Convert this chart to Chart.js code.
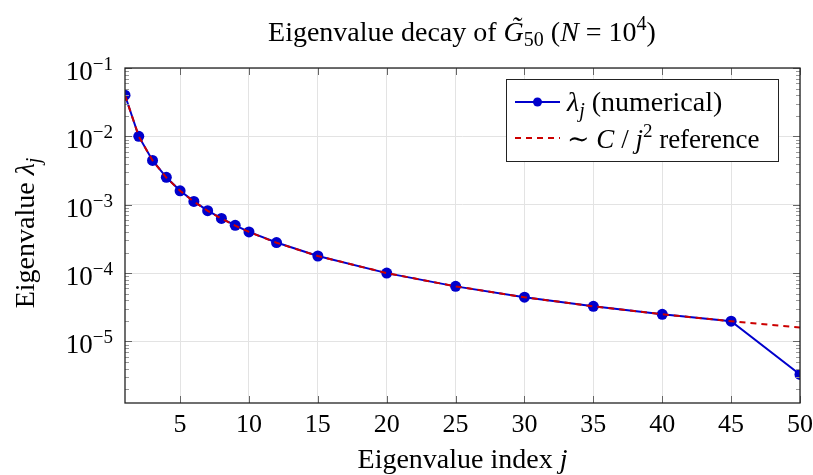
<!DOCTYPE html>
<html>
<head>
<meta charset="utf-8">
<script src="https://cdn.jsdelivr.net/npm/chart.js@4.4.1/dist/chart.umd.min.js"></script>
<style>
  html, body { margin: 0; padding: 0; background: #fff; }
  #wrap { width: 813px; height: 475px; position: relative; }
</style>
</head>
<body>
<div id="wrap"><canvas id="decay"></canvas></div>
<script>
// Eigenvalue decay data
const jIdx = [1, 2, 3, 4, 5, 6, 7, 8, 9, 10, 12, 15, 20, 25, 30, 35, 40, 45, 50];
const lambdaNum = [0.040, 0.0100, 0.00445, 0.00252, 0.00160, 0.00112, 0.00082, 0.00063, 0.00050,
    0.00040, 0.000280, 0.000178, 0.000100, 6.4e-5, 4.45e-5, 3.27e-5, 2.5e-5, 1.98e-5, 3.3e-6];
const refVals = [0.040, 0.0100, 0.00444, 0.00250, 0.00160, 0.00111, 0.000816, 0.000625, 0.000494,
    0.00040, 0.000278, 0.000178, 0.000100, 6.4e-5, 4.44e-5, 3.27e-5, 2.5e-5, 1.98e-5, 1.6e-5];
const xTicks = [5, 10, 15, 20, 25, 30, 35, 40, 45, 50];
const yDecades = [-5, -4, -3, -2, -1];

const SERIF = '"Liberation Serif", "DejaVu Serif", serif';
const BLUE = '#0000cc';
const RED = '#cc0000';

function font(size, italic) {
    return (italic ? 'italic ' : '') + size + 'px ' + SERIF;
}

// draw a run of text pieces: {t, size, it, dy}
function drawRich(ctx, parts, x, y, align) {
    let w = 0;
    parts.forEach(p => { ctx.font = font(p.size, p.it); w += ctx.measureText(p.t).width; });
    let cx = align === 'center' ? x - w / 2 : (align === 'right' ? x - w : x);
    ctx.textAlign = 'left';
    ctx.textBaseline = 'alphabetic';
    parts.forEach(p => {
        ctx.font = font(p.size, p.it);
        ctx.fillText(p.t, cx, y + (p.dy || 0));
        cx += ctx.measureText(p.t).width;
    });
}

const decorPlugin = {
    id: 'decor',
    afterDraw(chart) {
        const ctx = chart.ctx;
        const area = chart.chartArea;
        const xs = chart.scales.x, ys = chart.scales.y;
        ctx.save();
        ctx.fillStyle = '#000';

        // title
        drawRich(ctx, [
            { t: 'Eigenvalue decay of ', size: 28 },
            { t: 'G\u0303', size: 28, it: true },
            { t: '50', size: 20, dy: 5 },
            { t: ' (', size: 28 },
            { t: 'N', size: 28, it: true },
            { t: ' = 10', size: 28 },
            { t: '4', size: 20, dy: -11 },
            { t: ')', size: 28 }
        ], 462, 41, 'center');

        // y tick labels 10^k
        yDecades.forEach(k => {
            const py = ys.getPixelForValue(Math.pow(10, k));
            drawRich(ctx, [
                { t: '10', size: 27 },
                { t: '\u2212' + (-k), size: 19, dy: -10 }
            ], 113, py + 12, 'right');
        });

        // x tick labels
        xTicks.forEach(v => {
            drawRich(ctx, [{ t: String(v), size: 26 }], xs.getPixelForValue(v), 432, 'center');
        });

        // x axis title
        drawRich(ctx, [
            { t: 'Eigenvalue index ', size: 28 },
            { t: 'j', size: 28, it: true }
        ], (area.left + area.right) / 2, 468, 'center');

        // y axis title (rotated)
        ctx.save();
        ctx.translate(34, 233);
        ctx.rotate(-Math.PI / 2);
        drawRich(ctx, [
            { t: 'Eigenvalue ', size: 28 },
            { t: '\u03bb', size: 28, it: true },
            { t: 'j', size: 20, it: true, dy: 6 }
        ], 0, 0, 'center');
        ctx.restore();

        // minor ticks on log axis, both sides, inside
        ctx.strokeStyle = '#999';
        ctx.lineWidth = 1;
        for (let k = -6; k < -1; k++) {
            for (let m = 2; m <= 9; m++) {
                const v = m * Math.pow(10, k);
                const py = Math.round(ys.getPixelForValue(v)) + 0.5;
                if (py < area.top || py > area.bottom) continue;
                ctx.beginPath();
                ctx.moveTo(area.left, py); ctx.lineTo(area.left + 4, py);
                ctx.moveTo(area.right, py); ctx.lineTo(area.right - 4, py);
                ctx.stroke();
            }
        }
        // major ticks
        ctx.strokeStyle = '#666';
        yDecades.forEach(k => {
            const py = Math.round(ys.getPixelForValue(Math.pow(10, k))) + 0.5;
            ctx.beginPath();
            ctx.moveTo(area.left, py); ctx.lineTo(area.left + 7, py);
            ctx.moveTo(area.right, py); ctx.lineTo(area.right - 7, py);
            ctx.stroke();
        });
        xTicks.forEach(v => {
            const px = Math.round(xs.getPixelForValue(v)) + 0.5;
            ctx.beginPath();
            ctx.moveTo(px, area.bottom); ctx.lineTo(px, area.bottom - 7);
            ctx.moveTo(px, area.top); ctx.lineTo(px, area.top + 7);
            ctx.stroke();
        });

        // frame
        ctx.strokeStyle = '#222';
        ctx.lineWidth = 1.3;
        ctx.strokeRect(area.left, area.top, area.right - area.left, area.bottom - area.top);

        // legend
        const lx = 506, ly = 79, lw = 272, lh = 82;
        ctx.fillStyle = '#fff';
        ctx.fillRect(lx, ly, lw, lh);
        ctx.strokeStyle = '#222';
        ctx.lineWidth = 1;
        ctx.strokeRect(lx + 0.5, ly + 0.5, lw, lh);
        // row 1
        ctx.strokeStyle = BLUE;
        ctx.lineWidth = 2;
        ctx.beginPath(); ctx.moveTo(515, 102); ctx.lineTo(560, 102); ctx.stroke();
        ctx.fillStyle = BLUE;
        ctx.beginPath(); ctx.arc(537.5, 102, 4.5, 0, Math.PI * 2); ctx.fill();
        ctx.fillStyle = '#000';
        drawRich(ctx, [
            { t: '\u03bb', size: 28, it: true },
            { t: 'j', size: 20, it: true, dy: 6 },
            { t: ' (numerical)', size: 28 }
        ], 567, 111, 'left');
        // row 2
        ctx.strokeStyle = RED;
        ctx.lineWidth = 2;
        ctx.setLineDash([6, 5]);
        ctx.beginPath(); ctx.moveTo(515, 138); ctx.lineTo(560, 138); ctx.stroke();
        ctx.setLineDash([]);
        drawRich(ctx, [
            { t: '\u223c ', size: 27 },
            { t: 'C', size: 27, it: true },
            { t: ' / ', size: 27 },
            { t: 'j', size: 27, it: true },
            { t: '2', size: 19, dy: -11 },
            { t: ' reference', size: 27 }
        ], 567, 148, 'left');

        ctx.restore();
    }
};

const ctx = document.getElementById('decay').getContext('2d');
new Chart(ctx, {
    type: 'line',
    data: {
        datasets: [
            {
                label: '~ C/j^2 reference',
                data: jIdx.map((j, i) => ({ x: j, y: refVals[i] })),
                borderColor: RED,
                borderWidth: 2,
                borderDash: [6, 5],
                pointRadius: 0,
                fill: false,
                tension: 0,
                order: 0
            },
            {
                label: 'lambda_j (numerical)',
                data: jIdx.map((j, i) => ({ x: j, y: lambdaNum[i] })),
                borderColor: BLUE,
                backgroundColor: BLUE,
                borderWidth: 2,
                pointRadius: 5.5,
                pointBorderWidth: 0,
                pointBackgroundColor: BLUE,
                fill: false,
                tension: 0,
                order: 1
            }
        ]
    },
    options: {
        responsive: true,
        maintainAspectRatio: false,
        animation: false,
        layout: { padding: { top: 68, right: 13, left: 0, bottom: 0 } },
        scales: {
            x: {
                type: 'linear',
                min: 1,
                max: 50,
                afterBuildTicks: (scale) => { scale.ticks = xTicks.map(v => ({ value: v })); },
                afterFit: (scale) => { scale.height = 72; },
                grid: { color: '#e3e3e3', lineWidth: 1, drawTicks: false },
                border: { display: false },
                ticks: { display: false }
            },
            y: {
                type: 'logarithmic',
                min: 1.26e-6,
                max: 0.1,
                afterBuildTicks: (scale) => { scale.ticks = yDecades.map(k => ({ value: Math.pow(10, k) })); },
                afterFit: (scale) => { scale.width = 125; },
                grid: { color: '#e3e3e3', lineWidth: 1, drawTicks: false },
                border: { display: false },
                ticks: { display: false }
            }
        },
        plugins: {
            legend: { display: false },
            title: { display: false },
            tooltip: { enabled: false }
        }
    },
    plugins: [decorPlugin]
});
</script>
</body>
</html>
